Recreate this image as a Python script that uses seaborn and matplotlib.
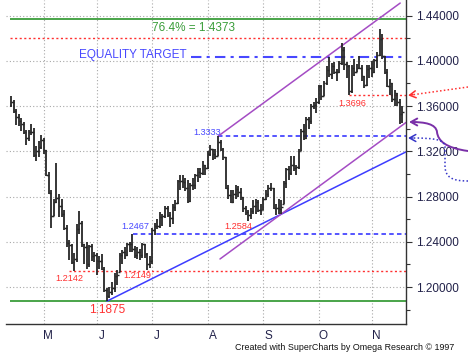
import numpy as np
import pandas as pd
import seaborn as sns
import matplotlib.pyplot as plt
from matplotlib.patches import FancyArrowPatch, PathPatch
from matplotlib.path import Path
from matplotlib.transforms import Affine2D, blended_transform_factory

# EUR/USD daily bars, 14 Apr - 17 Nov 2010 (weekdays, index counted from Mon 12 Apr)
highs = [
    1.3690, 1.3650, 1.3570, 1.3530, 1.3495, 1.3460, 1.3390, 1.3390, 1.3440, 1.3410,
    1.3250, 1.3290, 1.3340,
    1.3320, 1.3210, 1.3020, 1.2860, 1.2780, 1.3095, 1.2820, 1.2780, 1.2680, 1.2545,
    1.2420, 1.2380, 1.2300, 1.2560, 1.2675, 1.2580, 1.2380, 1.2400, 1.2370, 1.2380, 1.2310,
    1.2300, 1.2270, 1.2290, 1.2180, 1.1990, 1.2000, 1.2040, 1.2120, 1.2150,
    1.2300, 1.2330, 1.2350, 1.2390, 1.2400, 1.2467, 1.2360, 1.2350, 1.2340, 1.2390,
    1.2380, 1.2300, 1.2270,
    1.2520, 1.2570, 1.2600, 1.2660, 1.2650, 1.2720, 1.2720, 1.2660, 1.2730, 1.2770, 1.2950, 1.2990,
    1.2990, 1.2960, 1.2950, 1.2920, 1.2960, 1.3000, 1.3050, 1.3050, 1.3110, 1.3080,
    1.3200, 1.3260, 1.3220, 1.3220, 1.3333, 1.3300, 1.3230, 1.3150, 1.2900, 1.2860,
    1.2860, 1.2900, 1.2890, 1.2880, 1.2800, 1.2720, 1.2680, 1.2700, 1.2770, 1.2780, 1.2770, 1.2730,
    1.2800, 1.2860, 1.2900, 1.2920, 1.2880, 1.2730, 1.2780, 1.2770, 1.2940, 1.3050, 1.3070, 1.3160, 1.3160,
    1.3080, 1.3220, 1.3400, 1.3440, 1.3500, 1.3500, 1.3620, 1.3640, 1.3670,
    1.3790, 1.3790, 1.3820, 1.3950, 1.4030, 1.3980, 1.3990, 1.3930, 1.4000, 1.4160, 1.4120,
    1.3990, 1.3960, 1.3960, 1.4020, 1.3970, 1.4040, 1.3960, 1.3870, 1.3960, 1.3960,
    1.4000, 1.4020, 1.4080, 1.4282, 1.4240, 1.4040, 1.3930, 1.3840, 1.3800, 1.3740,
    1.3720, 1.3660, 1.3600,
]
lows = [
    1.3590, 1.3540, 1.3435, 1.3420, 1.3380, 1.3350, 1.3255, 1.3290, 1.3340, 1.3150,
    1.3115, 1.3150, 1.3220,
    1.3180, 1.2980, 1.2820, 1.2520, 1.2630, 1.2740, 1.2620, 1.2620, 1.2500, 1.2350,
    1.2235, 1.2200, 1.2142, 1.2220, 1.2470, 1.2350, 1.2200, 1.2160, 1.2180, 1.2230, 1.2225,
    1.2110, 1.2160, 1.2150, 1.1960, 1.1875, 1.1900, 1.1930, 1.1960, 1.2020,
    1.2130, 1.2200, 1.2250, 1.2270, 1.2310, 1.2310, 1.2260, 1.2250, 1.2240, 1.2260,
    1.2260, 1.2149, 1.2170,
    1.2200, 1.2460, 1.2510, 1.2520, 1.2540, 1.2610, 1.2620, 1.2530, 1.2560, 1.2670, 1.2730, 1.2860,
    1.2880, 1.2850, 1.2740, 1.2750, 1.2860, 1.2870, 1.2930, 1.2960, 1.2990, 1.2990,
    1.3040, 1.3160, 1.3120, 1.3130, 1.3160, 1.3200, 1.3120, 1.2870, 1.2780, 1.2740,
    1.2740, 1.2780, 1.2800, 1.2770, 1.2660, 1.2640, 1.2584, 1.2600, 1.2650, 1.2650, 1.2660, 1.2640,
    1.2680, 1.2770, 1.2800, 1.2850, 1.2690, 1.2640, 1.2650, 1.2650, 1.2730, 1.2880, 1.2950, 1.2990, 1.3030,
    1.2990, 1.3040, 1.3200, 1.3300, 1.3310, 1.3400, 1.3440, 1.3570, 1.3540,
    1.3620, 1.3650, 1.3690, 1.3790, 1.3860, 1.3840, 1.3880, 1.3820, 1.3890, 1.3960, 1.3920,
    1.3850, 1.3696, 1.3720, 1.3870, 1.3900, 1.3930, 1.3820, 1.3760, 1.3780, 1.3850,
    1.3860, 1.3890, 1.3940, 1.4040, 1.4020, 1.3880, 1.3770, 1.3700, 1.3640, 1.3600,
    1.3600, 1.3440, 1.3450,
]
closes = [
    1.3640, 1.3560, 1.3500, 1.3465, 1.3440, 1.3370, 1.3320, 1.3375, 1.3370, 1.3170,
    1.3200, 1.3240, 1.3300,
    1.3210, 1.2990, 1.2830, 1.2630, 1.2750, 1.2790, 1.2720, 1.2650, 1.2520, 1.2385,
    1.2370, 1.2220, 1.2250, 1.2510, 1.2570, 1.2380, 1.2350, 1.2200, 1.2360, 1.2270, 1.2280,
    1.2230, 1.2230, 1.2160, 1.1970, 1.1920, 1.1960, 1.1990, 1.2100, 1.2110,
    1.2280, 1.2310, 1.2280, 1.2380, 1.2380, 1.2340, 1.2280, 1.2310, 1.2280, 1.2380,
    1.2290, 1.2200, 1.2230,
    1.2500, 1.2540, 1.2540, 1.2620, 1.2630, 1.2700, 1.2640, 1.2610, 1.2710, 1.2740, 1.2940, 1.2940,
    1.2930, 1.2880, 1.2760, 1.2900, 1.2900, 1.2990, 1.3020, 1.3010, 1.3080, 1.3050,
    1.3180, 1.3220, 1.3180, 1.3160, 1.3280, 1.3220, 1.3150, 1.2880, 1.2810, 1.2750,
    1.2820, 1.2870, 1.2840, 1.2800, 1.2700, 1.2660, 1.2640, 1.2670, 1.2720, 1.2750, 1.2680, 1.2680,
    1.2780, 1.2820, 1.2880, 1.2880, 1.2700, 1.2700, 1.2690, 1.2710, 1.2920, 1.3040, 1.3010, 1.3080, 1.3050,
    1.3060, 1.3200, 1.3380, 1.3320, 1.3490, 1.3470, 1.3600, 1.3610, 1.3640,
    1.3780, 1.3690, 1.3800, 1.3920, 1.3880, 1.3950, 1.3900, 1.3900, 1.3980, 1.4100, 1.3970,
    1.3950, 1.3730, 1.3940, 1.3900, 1.3940, 1.3940, 1.3870, 1.3790, 1.3930, 1.3940,
    1.3900, 1.4010, 1.4050, 1.4190, 1.4040, 1.3900, 1.3780, 1.3800, 1.3660, 1.3720,
    1.3640, 1.3530, 1.3550,
]
first_open = 1.3610

month_labels = ["M", "J", "J", "A", "S", "O", "N"]
y_major = [1.20, 1.24, 1.28, 1.32, 1.36, 1.40, 1.44]
y_minor = [1.18, 1.22, 1.26, 1.30, 1.34, 1.38, 1.42]

# trend lines (weekday index, price)
support_t, support_p = [40, 158.5], [1.1875, 1.3195]
chan_top_t, chan_top_p = [84, 156.2], [1.3333, 1.4511]
chan_bot_t, chan_bot_p = [84.8, 158.5], [1.2248, 1.3455]

XMIN, XMAX = 1.67, 158.5
YMIN, YMAX = 1.1673, 1.4538

GREEN = "#3a9d3a"
RED = "#ff3030"
BLUE = "#4848ff"
PURPLE = "#a44cc4"
BAR = "#262626"
AXC = "#22224a"

sns.set_style("white")
plt.rcParams["font.family"] = ["Liberation Sans", "DejaVu Sans"]

dates = pd.bdate_range("2010-04-12", "2010-11-17")
day = np.arange(len(dates))
df = pd.DataFrame({"date": dates[2:], "t": day[2:], "high": highs, "low": lows, "close": closes})
df["open"] = np.clip(np.r_[first_open, df["close"].to_numpy()[:-1]], df["low"], df["high"])

month_start = day[1:][dates.month[1:] != dates.month[:-1]]
mondays = [t for t in day[dates.weekday == 0] if min(abs(t - month_start)) > 2]

fig = plt.figure(figsize=(4.68, 3.57), dpi=100)
ax = fig.add_axes([6 / 468, 33 / 357, 400 / 468, 324 / 357])

# price bars
ax.vlines(df["t"], df["low"], df["high"], color=BAR, lw=1.3, zorder=3)
ax.hlines(df["open"], df["t"] - 0.6, df["t"], color=BAR, lw=1.0, zorder=3)
ax.hlines(df["close"], df["t"], df["t"] + 0.6, color=BAR, lw=1.0, zorder=3)

# horizontal levels
ax.hlines(1.4373, XMIN, XMAX, color=GREEN, lw=1.3, zorder=2)
ax.hlines(1.1875, XMIN, XMAX, color=GREEN, lw=1.3, zorder=2)
ax.hlines(1.4200, XMIN, XMAX, color=RED, lw=1.0, linestyle=(0, (1.5, 1.8)), zorder=2)
ax.hlines(1.2142, 24.8, XMAX, color=RED, lw=1.0, linestyle=(0, (1.5, 1.8)), zorder=2)
ax.hlines(1.3696, 136, XMAX, color=RED, lw=1.0, linestyle=(0, (1.5, 1.8)), zorder=2)
ax.hlines(1.4030, 73.2, XMAX, color=BLUE, lw=1.5, linestyle=(0, (5, 2.5, 1.5, 2.5)), zorder=2)
ax.hlines(1.3333, 84, XMAX, color=BLUE, lw=1.3, linestyle=(0, (2.5, 1.8)), zorder=2)
ax.hlines(1.2467, 50.3, XMAX, color=BLUE, lw=1.3, linestyle=(0, (2.5, 1.8)), zorder=2)

# trend lines
trend = pd.DataFrame({
    "t": support_t + chan_top_t + chan_bot_t,
    "price": support_p + chan_top_p + chan_bot_p,
    "line": ["support"] * 2 + ["top"] * 2 + ["bottom"] * 2,
})
sns.lineplot(data=trend, x="t", y="price", hue="line", estimator=None, sort=False,
             palette={"support": "#3c3cff", "top": PURPLE, "bottom": PURPLE},
             legend=False, lw=1.1, ax=ax, zorder=2)

# labels
small = dict(fontsize=6.6, va="center", ha="left")
ax.text(19.7, 1.2071, "1.2142", color=RED, **small)
ax.text(46.4, 1.2106, "1.2149", color=RED, **small)
ax.text(45.6, 1.2531, "1.2467", color=BLUE, **small)
ax.text(74.2, 1.3362, "1.3333", color=BLUE, **small)
ax.text(86.4, 1.2531, "1.2584", color=RED, **small)
ax.text(131.5, 1.3627, "1.3696", color=RED, **small)
ax.text(33.0, 1.1797, "1.1875", color=RED, fontsize=8.5, va="center", ha="left")
ax.text(57.8, 1.4290, "76.4% = 1.4373", color=GREEN, fontsize=8.5, va="center", ha="left")
ax.text(29.1, 1.4051, "EQUALITY TARGET", color=BLUE, fontsize=8.5, va="center", ha="left")

# axes
ax.set_xlim(XMIN, XMAX)
ax.set_ylim(YMIN, YMAX)
ax.set_xlabel("")
ax.set_ylabel("")
ax.yaxis.tick_right()
ax.set_yticks(y_major)
ax.set_yticklabels([f"{v:.5f}" for v in y_major])
ax.set_yticks(y_minor, minor=True)
ax.set_xticks(month_start)
ax.set_xticklabels([])
ax.set_xticks(mondays, minor=True)
ax.tick_params(axis="y", which="major", length=4, width=0.8, pad=3, labelsize=8.5,
               labelcolor=AXC, color="#333333", direction="out")
ax.tick_params(axis="y", which="minor", length=3, width=0.8, color="#333333", direction="out")
ax.tick_params(axis="x", which="major", length=6, width=0.8, color="#333333", direction="out")
ax.tick_params(axis="x", which="minor", length=3, width=0.8, color="#333333", direction="out")

lab = blended_transform_factory(ax.transData, ax.transAxes)
for t, m in zip(month_start, month_labels):
    ax.text(t + 1.8, -0.037, m, transform=lab, ha="center", va="center",
            fontsize=8.5, color=AXC)

ax.grid(True, which="major", color="#a8a8a8", linestyle=(0, (1, 2)), lw=0.8)
ax.set_axisbelow(True)
for side in ["top", "left"]:
    ax.spines[side].set_visible(False)
for side in ["right", "bottom"]:
    ax.spines[side].set_color("#333333")
    ax.spines[side].set_linewidth(1.0)

# pointer arrows in the right margin (image pixels, y down)
px = Affine2D().scale(1 / 468, -1 / 357).translate(0, 1) + fig.transFigure


def head(tip, frm, color):
    fig.add_artist(FancyArrowPatch(frm, tip, transform=px, color=color, lw=1.1,
                                   arrowstyle="->,head_length=0.45,head_width=0.25",
                                   mutation_scale=10, shrinkA=0, shrinkB=0))


fig.add_artist(FancyArrowPatch(
    path=Path([(468, 151), (446, 148), (438, 141), (437, 132), (436, 124), (425, 122), (409, 122)],
              [Path.MOVETO] + [Path.CURVE4] * 6),
    transform=px, color="#7a30a8", lw=1.4, mutation_scale=10,
    arrowstyle="->,head_length=0.45,head_width=0.25"))

fig.add_artist(PathPatch(
    Path([(468, 181), (452, 181), (445, 177), (445, 166), (445, 148), (445, 140), (438, 138), (411, 138)],
         [Path.MOVETO, Path.CURVE4, Path.CURVE4, Path.CURVE4, Path.LINETO,
          Path.CURVE4, Path.CURVE4, Path.CURVE4]),
    transform=px, fill=False, edgecolor="#3535c8", lw=1.1, linestyle=(0, (1, 1.5))))
head((408, 138), (413, 138), "#3535c8")

fig.add_artist(PathPatch(Path([(468, 87), (411, 95)]), transform=px, fill=False,
                         edgecolor=RED, lw=1.1, linestyle=(0, (1, 1.5))))
head((408, 95.4), (413, 94.7), RED)

fig.text(454 / 468, 9 / 357, "Created with SuperCharts by Omega Research \u00a9 1997",
         ha="right", va="center", fontsize=6.4, color="#111111")

fig.savefig("out.png", dpi=100)
